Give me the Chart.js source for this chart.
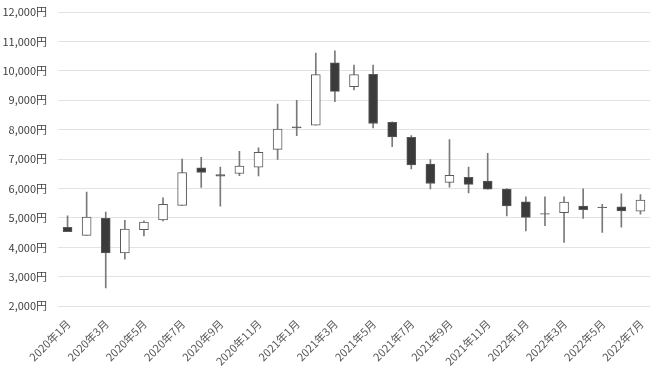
<!DOCTYPE html>
<html>
<head>
<meta charset="utf-8">
<script src="https://cdn.jsdelivr.net/npm/chart.js@4/dist/chart.umd.min.js"></script>
<style>
  html, body { margin: 0; padding: 0; background: #fff; }
  #wrap { width: 660px; height: 371px; }
</style>
</head>
<body>
<div id="wrap"><canvas id="chart"></canvas></div>
<script>
const months = [
  '2020年1月', '2020年2月', '2020年3月', '2020年4月', '2020年5月', '2020年6月',
  '2020年7月', '2020年8月', '2020年9月', '2020年10月', '2020年11月', '2020年12月',
  '2021年1月', '2021年2月', '2021年3月', '2021年4月', '2021年5月', '2021年6月',
  '2021年7月', '2021年8月', '2021年9月', '2021年10月', '2021年11月', '2021年12月',
  '2022年1月', '2022年2月', '2022年3月', '2022年4月', '2022年5月', '2022年6月',
  '2022年7月'
]

// 月足: 始値・高値・安値・終値 (円)
const openPrices = [
  4680, 4410, 4990, 3810, 4600, 4930, 5430, 6700, 6470, 6510, 6730, 7330,
  8060, 8150, 10270, 9460, 9880, 8250, 7740, 6830, 6210, 6380, 6250, 5980,
  5550, 5130, 5180, 5400, 5350, 5380, 5230
]
const highPrices = [
  5070, 5880, 5200, 4920, 4900, 5680, 7000, 7060, 6730, 7260, 7380, 8870,
  9000, 10600, 10680, 10200, 10200, 8270, 7800, 6980, 7660, 6730, 7200, 6000,
  5720, 5720, 5720, 5990, 5460, 5820, 5790
]
const lowPrices = [
  4530, 4410, 2620, 3600, 4390, 4900, 5430, 6040, 5400, 6440, 6430, 6990,
  7800, 8150, 8950, 9350, 8060, 7420, 6670, 5990, 6050, 5850, 5980, 5070,
  4560, 4740, 4170, 4980, 4510, 4690, 5130
]
const closePrices = [
  4530, 5030, 3810, 4620, 4860, 5460, 6540, 6550, 6420, 6760, 7230, 8020,
  8100, 9870, 9300, 9870, 8210, 7750, 6800, 6170, 6450, 6140, 5980, 5410,
  5020, 5150, 5540, 5280, 5370, 5240, 5610
]

const yTicks = [2000, 3000, 4000, 5000, 6000, 7000, 8000, 9000, 10000, 11000, 12000]

const bodies = months.map((m, i) => [openPrices[i], closePrices[i]])
const wicks = months.map((m, i) => [lowPrices[i], highPrices[i]])
// 陰線は黒、陽線は白。ほぼ同値(十字線)は線だけ見えるよう濃いめに
const bodyFill = months.map((m, i) => {
  if (Math.abs(closePrices[i] - openPrices[i]) < 60) return '#5a5a5a'
  return closePrices[i] < openPrices[i] ? '#3b3b3b' : '#ffffff'
})

const fontFamily = '"Noto Sans CJK JP", "Noto Sans", sans-serif'

new Chart(document.getElementById('chart'), {
  type: 'bar',
  data: {
    labels: months,
    datasets: [
      {
        label: 'body',
        data: bodies,
        backgroundColor: bodyFill,
        borderColor: '#5a5a5a',
        borderWidth: 1,
        borderSkipped: false,
        barThickness: 9,
        grouped: false
      },
      {
        label: 'wick',
        data: wicks,
        backgroundColor: '#7a7a7a',
        borderWidth: 0,
        barThickness: 1,
        grouped: false
      }
    ]
  },
  options: {
    responsive: true,
    maintainAspectRatio: false,
    animation: false,
    layout: { padding: { left: 2, right: 10, top: 12, bottom: 0 } },
    plugins: {
      legend: { display: false },
      tooltip: { enabled: false }
    },
    scales: {
      x: {
        grid: { display: false },
        border: { display: false },
        afterFit: axis => {
          // ラベルのはみ出し分の余白は付けない
          axis.paddingLeft = 0
          axis.paddingRight = 0
        },
        ticks: {
          autoSkip: false,
          maxRotation: 45,
          minRotation: 45,
          labelOffset: 1,
          color: '#595959',
          font: { family: fontFamily, size: 11 },
          callback: function (value, index) {
            return index % 2 === 0 ? months[index] : ''
          }
        }
      },
      y: {
        min: 2000,
        max: 12000,
        border: { display: false },
        grid: { color: '#e3e3e3', lineWidth: 1, drawTicks: false },
        afterBuildTicks: axis => {
          axis.ticks = yTicks.map(v => ({ value: v }))
        },
        afterFit: axis => {
          axis.width = 56
          axis.paddingTop = 0
          axis.paddingBottom = 0
        },
        ticks: {
          padding: 11,
          color: '#404040',
          font: { family: fontFamily, size: 11 },
          callback: v => v.toLocaleString('en-US') + '円'
        }
      }
    }
  }
})
</script>
</body>
</html>
